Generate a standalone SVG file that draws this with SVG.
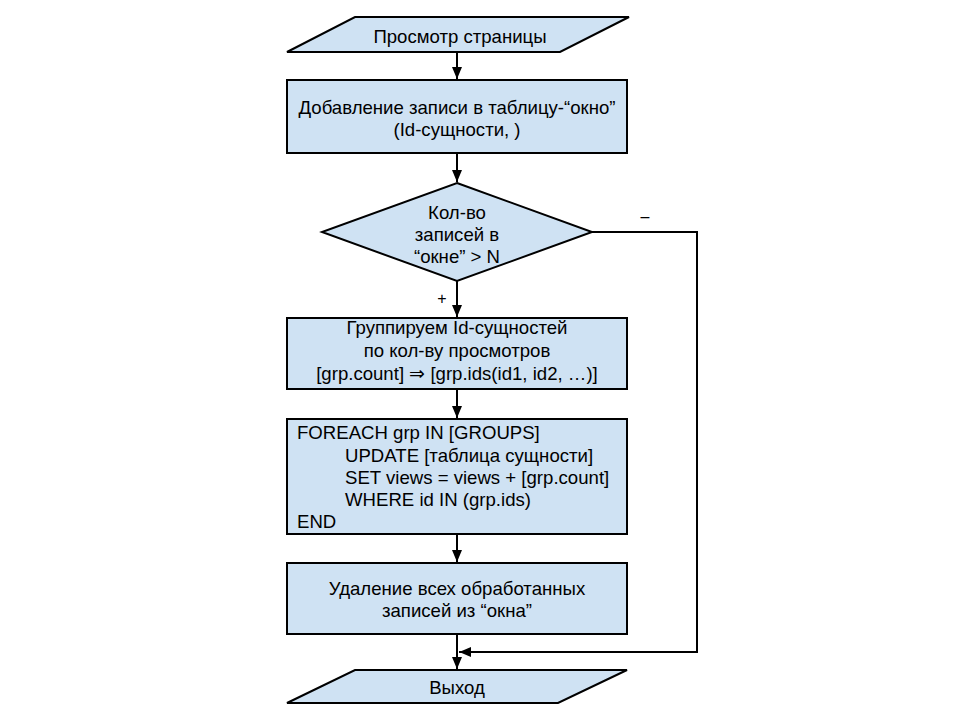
<svg xmlns="http://www.w3.org/2000/svg" width="960" height="720" viewBox="0 0 960 720">
<defs>
<marker id="arr" markerWidth="10" markerHeight="12" viewBox="0 0 10 12" refX="12" refY="5" orient="auto" markerUnits="userSpaceOnUse">
<path d="M0,0 L12,5 L0,10 Z" fill="#000"/>
</marker>
<style>
.s{fill:#cfe2f3;stroke:#000;stroke-width:2}
.t{font-family:"Liberation Sans",Arial,sans-serif;font-size:18.6px;fill:#000;text-anchor:middle}
.l{font-family:"Liberation Sans",Arial,sans-serif;font-size:18.6px;fill:#000}
.c{fill:none;stroke:#000;stroke-width:2}
</style>
</defs>
<rect width="960" height="720" fill="#fff"/>
<g id="connectors">
<path class="c" d="M457,52 V79" marker-end="url(#arr)"/>
<path class="c" d="M457,153 V182" marker-end="url(#arr)"/>
<path class="c" d="M457,281 V317" marker-end="url(#arr)"/>
<path class="c" d="M457,389 V418" marker-end="url(#arr)"/>
<path class="c" d="M457,534 V562" marker-end="url(#arr)"/>
<path class="c" d="M457,634 V669" marker-end="url(#arr)"/>
<path class="c" d="M592,232 H697 V652 H459" marker-end="url(#arr)"/>
<text class="t" x="442" y="304" style="font-size:16px">+</text>
<text class="t" x="645" y="222" style="font-size:16px">–</text>
</g>
<g id="start">
<polygon class="s" points="355,17 629,17 560,52 287,52"/>
<text class="t" x="460" y="43">Просмотр страницы</text>
</g>
<g id="add">
<rect class="s" x="287" y="80" width="340" height="73"/>
<text class="t" x="457" y="114">Добавление записи в таблицу-“окно”</text>
<text class="t" x="457" y="136">(Id-сущности, )</text>
</g>
<g id="decision">
<polygon class="s" points="457,183 592,232 457,281 322,232"/>
<text class="t" x="457" y="219">Кол-во</text>
<text class="t" x="457" y="241">записей в</text>
<text class="t" x="457" y="263">“окне” &gt; N</text>
</g>
<g id="group">
<rect class="s" x="287" y="318" width="340" height="71"/>
<text class="t" x="457" y="334">Группируем Id-сущностей</text>
<text class="t" x="457" y="357">по кол-ву просмотров</text>
<text class="t" x="457" y="380">[grp.count] ⇒ [grp.ids(id1, id2, …)]</text>
</g>
<g id="foreach">
<rect class="s" x="287" y="419" width="340" height="115"/>
<text class="l" x="297" y="439">FOREACH grp IN [GROUPS]</text>
<text class="l" x="345" y="462">UPDATE [таблица сущности]</text>
<text class="l" x="345" y="484">SET views = views + [grp.count]</text>
<text class="l" x="345" y="506">WHERE id IN (grp.ids)</text>
<text class="l" x="297" y="528">END</text>
</g>
<g id="delete">
<rect class="s" x="287" y="563" width="340" height="71"/>
<text class="t" x="457" y="595">Удаление всех обработанных</text>
<text class="t" x="457" y="617">записей из “окна”</text>
</g>
<g id="exit">
<polygon class="s" points="355,670 627,670 558,703 287,703"/>
<text class="t" x="457" y="694">Выход</text>
</g>
</svg>
